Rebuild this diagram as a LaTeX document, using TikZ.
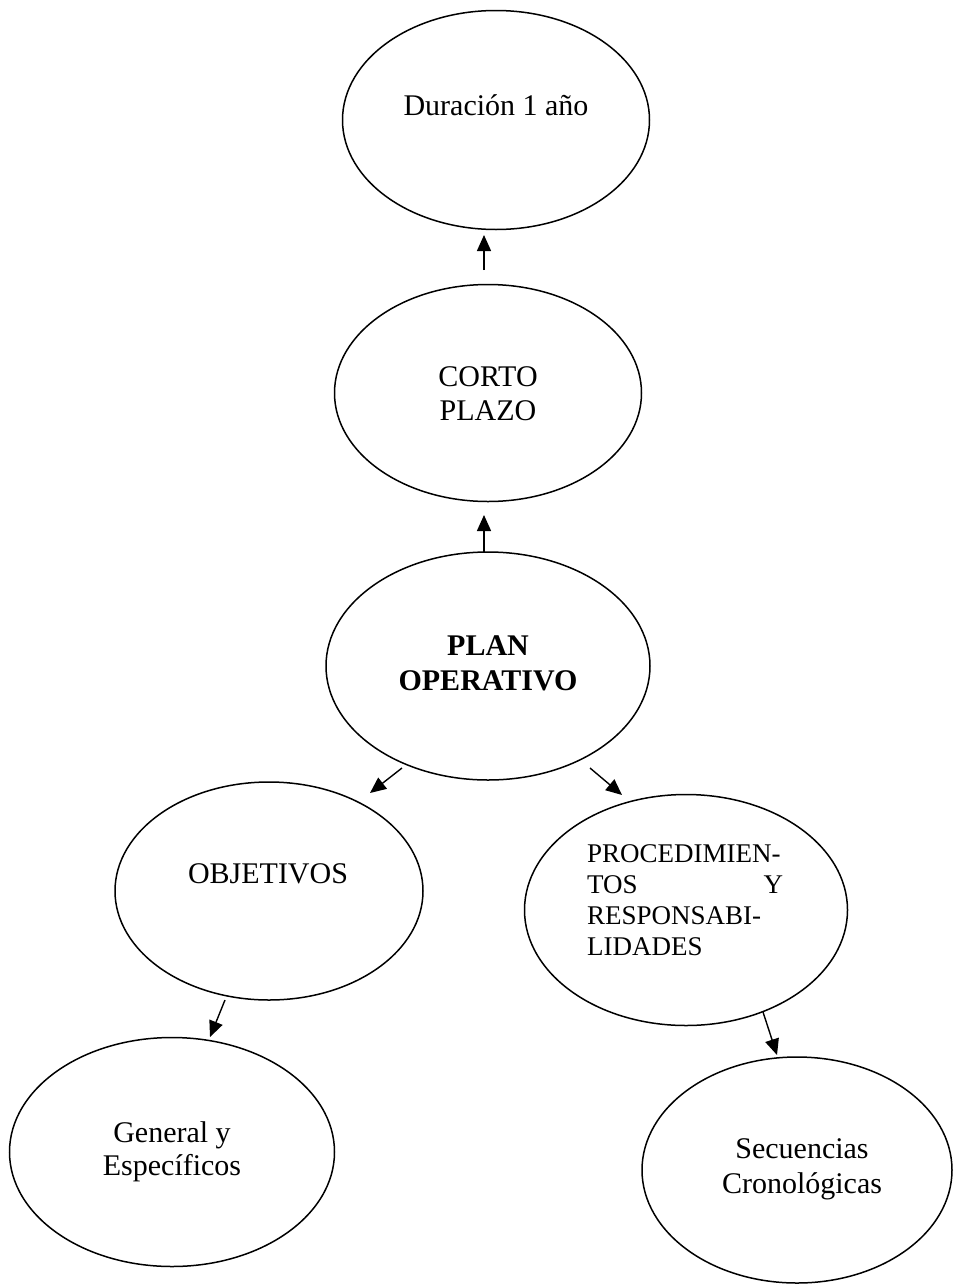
\documentclass[tikz,border=0pt]{standalone}
\usepackage{fontspec}
\setmainfont{Liberation Serif}
\usetikzlibrary{arrows.meta,shapes.geometric}
\begin{document}
\begin{tikzpicture}[x=1pt,y=-1pt,
  bub/.style={draw=black,line width=1.5pt,ellipse,inner sep=0pt},
  txt/.style={font=\fontsize{30}{34}\selectfont,align=center,inner sep=0pt,anchor=base},
  arr/.style={line width=1.4pt,-{Triangle[length=16pt,width=14pt]}}]
\fill[white] (0,0) rectangle (954,1285);
\useasboundingbox (0,0) rectangle (954,1285);
% ellipses
\node[bub,minimum width=307pt,minimum height=219pt] (dur) at (496,120) {};
\node[bub,minimum width=307pt,minimum height=217pt] (corto) at (488,393) {};
\node[bub,minimum width=324pt,minimum height=228pt] (plan) at (488,666) {};
\node[bub,minimum width=308pt,minimum height=218pt] (obj) at (269,891) {};
\node[bub,minimum width=323pt,minimum height=231pt] (proc) at (686,910) {};
\node[bub,minimum width=325pt,minimum height=229pt] (gen) at (172,1152) {};
\node[bub,minimum width=310pt,minimum height=226pt] (sec) at (797,1170) {};
% texts (multi-line nodes: base = last line baseline)
\node[txt] (tdur) at (496,115) {Duración 1 año};
\node[txt] (tcorto) at (488,420) {CORTO\\PLAZO};
\node[txt,font=\fontsize{30}{35}\selectfont\bfseries] (tplan) at (488,690) {PLAN\\OPERATIVO};
\node[txt] (tobj) at (268,883) {OBJETIVOS};
\node[txt,font=\fontsize{27}{31}\selectfont,align=left,text width=196pt,anchor=base west] (tproc) at (587,862)
  {PROCEDIMIEN-\\TOS\hfill Y\\RESPONSABI-\\LIDADES};
\node[txt,font=\fontsize{30}{33}\selectfont] (tgen) at (172,1175) {General y\\Específicos};
\node[txt,font=\fontsize{30}{35}\selectfont] (tsec) at (802,1193) {Secuencias\\Cronológicas};
% arrow end points
\coordinate (a1s) at (484,270); \coordinate (a1e) at (484,235);
\coordinate (a2s) at (484,552); \coordinate (a2e) at (484,515);
\coordinate (a3s) at (402,768); \coordinate (a3e) at (370,793);
\coordinate (a4s) at (590,768); \coordinate (a4e) at (622,795);
\coordinate (a5s) at (225,1000); \coordinate (a5e) at (210,1037);
\coordinate (a6s) at (763,1012); \coordinate (a6e) at (777,1055);
\draw[arr] (a1s) -- (a1e);
\draw[arr] (a2s) -- (a2e);
\draw[arr] (a3s) -- (a3e);
\draw[arr] (a4s) -- (a4e);
\draw[arr] (a5s) -- (a5e);
\draw[arr] (a6s) -- (a6e);
\end{tikzpicture}
\end{document}
